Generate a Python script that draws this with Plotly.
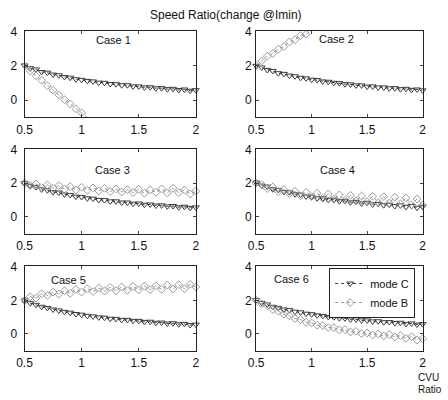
import plotly.graph_objects as go

X = [0.5, 0.55, 0.6, 0.65, 0.7, 0.75, 0.8, 0.85, 0.9, 0.95, 1.0, 1.05, 1.1, 1.15, 1.2, 1.25,
     1.3, 1.35, 1.4, 1.45, 1.5, 1.55, 1.6, 1.65, 1.7, 1.75, 1.8, 1.85, 1.9, 1.95, 2.0]

CASE_LABELS = ["Case 1", "Case 2", "Case 3", "Case 4", "Case 5", "Case 6"]

C1 = [2.02, 1.86, 1.79, 1.64, 1.60, 1.49, 1.45, 1.35, 1.31, 1.22, 1.18, 1.12, 1.09, 1.02, 1.01, 0.94,
      0.93, 0.87, 0.87, 0.80, 0.80, 0.74, 0.75, 0.69, 0.70, 0.64, 0.66, 0.59, 0.62, 0.55, 0.58]
B1 = [1.98, 1.70, 1.42, 1.16, 0.84, 0.58, 0.31, 0.03, -0.22, -0.50, -0.74, -1.01, -1.25, -1.52, None, None,
      None, None, None, None, None, None, None, None, None, None, None, None, None, None, None]

C2 = [2.00, 1.90, 1.76, 1.70, 1.57, 1.53, 1.43, 1.39, 1.30, 1.27, 1.19, 1.17, 1.09, 1.07, 1.01, 0.99,
      0.93, 0.92, 0.86, 0.86, 0.79, 0.80, 0.74, 0.74, 0.69, 0.70, 0.64, 0.66, 0.60, 0.62, 0.57]
B2 = [2.02, 2.28, 2.56, 2.72, 2.97, 3.12, 3.40, 3.52, 3.76, 3.84, 4.06, 4.20, 4.40, None, None, None,
      None, None, None, None, None, None, None, None, None, None, None, None, None, None, None]

C3 = [2.00, 1.85, 1.77, 1.63, 1.58, 1.47, 1.44, 1.33, 1.30, 1.20, 1.18, 1.10, 1.08, 1.00, 0.99, 0.92,
      0.92, 0.85, 0.85, 0.78, 0.79, 0.72, 0.73, 0.67, 0.68, 0.62, 0.64, 0.57, 0.60, 0.53, 0.56]
B3 = [2.02, 1.86, 1.96, 1.74, 1.90, 1.70, 1.86, 1.64, 1.80, 1.60, 1.76, 1.58, 1.72, 1.54, 1.70, 1.50,
      1.66, 1.48, 1.62, 1.44, 1.64, 1.40, 1.60, 1.46, 1.66, 1.42, 1.70, 1.44, 1.60, 1.36, 1.52]

C4 = [2.04, 1.86, 1.80, 1.64, 1.60, 1.48, 1.46, 1.34, 1.32, 1.21, 1.20, 1.10, 1.10, 1.01, 1.02, 0.93,
      0.95, 0.86, 0.89, 0.80, 0.83, 0.74, 0.77, 0.69, 0.72, 0.64, 0.68, 0.59, 0.64, 0.54, 0.60]
B4 = [2.00, 1.90, 1.68, 1.78, 1.50, 1.62, 1.38, 1.52, 1.25, 1.46, 1.20, 1.40, 1.10, 1.36, 1.05, 1.30,
      0.98, 1.28, 0.95, 1.24, 0.90, 1.22, 0.85, 1.20, 0.82, 1.16, 0.78, 1.12, 0.72, 1.06, 0.70]

C5 = [2.00, 1.84, 1.74, 1.62, 1.55, 1.46, 1.40, 1.32, 1.27, 1.19, 1.15, 1.08, 1.05, 0.99, 0.97, 0.91,
      0.90, 0.84, 0.84, 0.78, 0.78, 0.72, 0.73, 0.67, 0.68, 0.62, 0.64, 0.58, 0.60, 0.53, 0.56]
B5 = [2.00, 2.22, 2.14, 2.40, 2.30, 2.50, 2.38, 2.58, 2.42, 2.66, 2.50, 2.70, 2.52, 2.74, 2.56, 2.78,
      2.58, 2.80, 2.60, 2.84, 2.62, 2.86, 2.64, 2.88, 2.66, 2.92, 2.68, 2.94, 2.70, 2.96, 2.80]

C6 = [2.02, 1.85, 1.76, 1.62, 1.56, 1.46, 1.42, 1.33, 1.29, 1.21, 1.18, 1.11, 1.08, 1.02, 1.00, 0.94,
      0.93, 0.87, 0.87, 0.81, 0.81, 0.75, 0.76, 0.70, 0.71, 0.65, 0.67, 0.60, 0.63, 0.56, 0.59]
B6 = [2.00, 1.78, 1.68, 1.46, 1.36, 1.18, 1.08, 0.92, 0.86, 0.70, 0.66, 0.52, 0.50, 0.38, 0.38, 0.24,
      0.26, 0.12, 0.16, 0.02, 0.06, -0.06, 0.00, -0.12, -0.04, -0.18, -0.10, -0.26, -0.16, -0.36, -0.28]

MODE_C = [C1, C2, C3, C4, C5, C6]
MODE_B = [B1, B2, B3, B4, B5, B6]

X_TICKS = [0.5, 1, 1.5, 2]
X_TICKTEXT = ["0.5", "1", "1.5", "2"]
Y_TICKS = [0, 2, 4]

W, H = 448, 400
FONT = "Liberation Sans, Arial, sans-serif"
INK = "#111111"
COL_C = "#3c3c3c"
COL_B = "#9a9a9a"

# pixel boxes: (left, right, top, bottom)
boxes = [
    (17, 193, 25, 113), (255, 426, 25, 113),
    (17, 193, 145, 231), (255, 426, 145, 231),
    (17, 193, 264, 350), (255, 426, 264, 350),
]
# case label centres in pixels
label_px = [(108, 35), (338, 34), (107, 167), (339, 166), (62, 278), (291, 277)]

fig = go.Figure()
layout = dict(
    width=W, height=H, margin=dict(l=0, r=0, t=0, b=0),
    paper_bgcolor="white", plot_bgcolor="white",
    font=dict(family=FONT, size=11, color=INK),
    showlegend=True,
    legend=dict(x=330 / W, y=1 - 266 / H, xanchor="left", yanchor="top",
                bordercolor="#222", borderwidth=1, bgcolor="white",
                font=dict(size=11, family=FONT, color=INK), traceorder="normal",
                tracegroupgap=0),
)
annotations = []
for i, (l, r, t, b) in enumerate(boxes):
    k = "" if i == 0 else str(i + 1)
    layout["xaxis" + k] = dict(
        domain=[l / W, r / W], anchor="y" + k, range=[0.5, 2],
        tickvals=X_TICKS, ticktext=X_TICKTEXT, ticks="inside", ticklen=3,
        showline=True, linecolor="#222", linewidth=1, mirror="ticks",
        showgrid=False, zeroline=False, ticklabelstandoff=1,
        tickfont=dict(size=12, family=FONT, color=INK),
    )
    layout["yaxis" + k] = dict(
        domain=[1 - b / H, 1 - t / H], anchor="x" + k, range=[-1, 4.05],
        tickvals=Y_TICKS, ticks="inside", ticklen=3,
        showline=True, linecolor="#222", linewidth=1, mirror="ticks",
        showgrid=False, zeroline=False, ticklabelstandoff=(4 if i % 2 == 0 else 1),
        tickfont=dict(size=12, family=FONT, color=INK),
    )
    clip_b = i in (0, 1)
    fig.add_trace(go.Scatter(
        x=X, y=MODE_C[i], mode="lines+markers", name="mode C",
        xaxis="x" + k, yaxis="y" + k, showlegend=(i == 5), cliponaxis=False,
        line=dict(color=COL_C, width=1, dash="dot"),
        marker=dict(symbol="triangle-down-open", size=6, color=COL_C, line=dict(width=1)),
    ))
    fig.add_trace(go.Scatter(
        x=X, y=MODE_B[i], mode="lines+markers", name="mode B",
        xaxis="x" + k, yaxis="y" + k, showlegend=(i == 5), cliponaxis=clip_b,
        line=dict(color=COL_B, width=1, dash="dot"),
        marker=dict(symbol="diamond-open", size=6, color=COL_B, line=dict(width=1)),
    ))
    px, py = label_px[i]
    annotations.append(dict(text=CASE_LABELS[i], xref="paper", yref="paper",
                            x=px / W, y=1 - py / H, xanchor="center", yanchor="middle",
                            showarrow=False, font=dict(size=11, family=FONT, color=INK)))

annotations.append(dict(text="Speed Ratio(change @Imin)", xref="paper", yref="paper",
                        x=224 / W, y=1 - 9 / H, xanchor="center", yanchor="middle", showarrow=False,
                        font=dict(size=12, family=FONT, color=INK)))
annotations.append(dict(text="CVU", xref="paper", yref="paper", x=419 / W, y=1 - 377 / H,
                        xanchor="left", yanchor="middle", showarrow=False,
                        font=dict(size=10, family=FONT, color=INK)))
annotations.append(dict(text="Ratio", xref="paper", yref="paper", x=419 / W, y=1 - 389 / H,
                        xanchor="left", yanchor="middle", showarrow=False,
                        font=dict(size=10, family=FONT, color=INK)))
layout["annotations"] = annotations
fig.update_layout(**layout)
fig.write_html("out.html")
